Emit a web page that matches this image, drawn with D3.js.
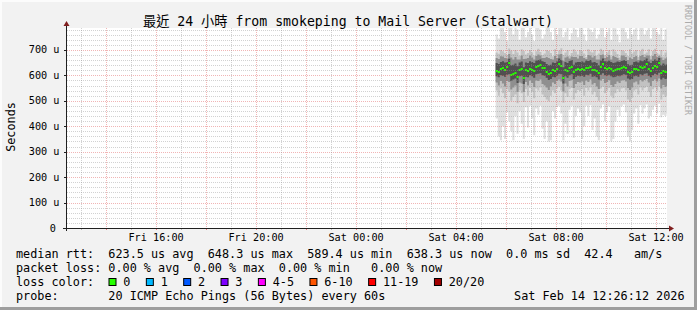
<!DOCTYPE html>
<html>
<head>
<meta charset="utf-8">
<title>smokeping - Mail Server (Stalwart)</title>
<script src="https://d3js.org/d3.v7.min.js"></script>
<style>
  body { margin: 0; background: #ffffff; }
  svg { display: block; }
  text { font-family: "DejaVu Sans Mono", monospace; white-space: pre; }
</style>
</head>
<body>
<script>
// ---- data (microseconds, one sample every 5 minutes from Sat 05:35) ----
var startTime = new Date(2026, 1, 14, 5, 35, 0);
var stepMinutes = 5;

var median = [618, 615, 625, 628, 622, 632, 648, 600, 606, 610, 592, 620, 624, 588, 620, 618, 625, 622, 618, 632,
  636, 640, 630, 627, 615, 606, 610, 620, 618, 626, 646, 635, 590, 622, 618, 628, 634, 612, 620, 624,
  622, 625, 620, 630, 628, 634, 620, 622, 618, 608, 632, 644, 628, 626, 630, 624, 618, 622, 626, 624,
  628, 634, 630, 614, 610, 612, 624, 626, 622, 632, 628, 634, 644, 626, 618, 630, 638, 632, 648, 608,
  616, 612, 614];

var smokeHi = [760, 745, 790, 800, 770, 735, 800, 790, 760, 800, 780, 740, 800, 795, 750, 770, 800, 760, 735, 790,
  800, 780, 745, 760, 800, 790, 770, 740, 800, 760, 795, 800, 750, 770, 800, 740, 765, 800, 780, 750,
  800, 790, 760, 735, 800, 780, 770, 800, 745, 760, 800, 790, 750, 770, 800, 740, 800, 785, 760, 730,
  800, 790, 770, 745, 800, 760, 780, 800, 740, 790, 800, 760, 775, 800, 745, 790, 800, 770, 760, 800,
  740, 780, 800];

var smokeP90 = [690, 685, 700, 695, 688, 680, 705, 698, 684, 700, 690, 676, 702, 696, 682, 688, 700, 690, 678, 695,
  704, 692, 680, 686, 700, 696, 688, 675, 702, 684, 698, 706, 680, 690, 700, 676, 688, 702, 694, 682,
  700, 696, 686, 672, 702, 694, 690, 700, 678, 686, 704, 698, 680, 690, 700, 674, 702, 694, 684, 670,
  700, 696, 688, 676, 702, 686, 694, 700, 672, 696, 704, 684, 690, 702, 676, 696, 704, 688, 682, 700,
  674, 690, 700];

var smokeP80 = [668, 664, 675, 674, 668, 666, 684, 670, 662, 672, 662, 662, 678, 664, 665, 668, 678, 670, 662, 676,
  682, 678, 668, 668, 672, 668, 664, 662, 676, 668, 682, 684, 656, 670, 674, 666, 674, 672, 672, 666,
  676, 676, 668, 664, 680, 678, 670, 676, 662, 662, 680, 682, 668, 672, 680, 662, 676, 672, 668, 660,
  678, 678, 672, 660, 670, 664, 672, 676, 660, 676, 680, 672, 678, 678, 662, 676, 684, 672, 676, 670,
  660, 666, 672];

var smokeP70 = [648, 645, 652, 655, 650, 652, 665, 640, 642, 646, 636, 650, 654, 632, 650, 648, 655, 652, 648, 658,
  660, 662, 655, 652, 645, 640, 642, 650, 648, 654, 666, 660, 632, 652, 648, 656, 660, 642, 650, 652,
  652, 654, 650, 658, 656, 660, 650, 652, 648, 640, 658, 666, 655, 654, 658, 652, 648, 650, 654, 652,
  656, 660, 656, 644, 640, 642, 652, 654, 650, 658, 655, 660, 666, 654, 648, 656, 662, 658, 668, 640,
  646, 642, 644];

var smokeP30 = [596, 592, 600, 598, 594, 602, 604, 578, 584, 588, 570, 596, 598, 566, 594, 592, 600, 596, 590, 604,
  606, 608, 600, 598, 590, 582, 586, 594, 592, 598, 606, 604, 568, 596, 590, 600, 604, 586, 594, 598,
  596, 598, 594, 602, 600, 606, 594, 596, 592, 584, 602, 608, 600, 598, 602, 596, 592, 594, 598, 596,
  600, 604, 602, 588, 584, 586, 596, 598, 594, 604, 600, 606, 608, 598, 592, 600, 606, 602, 610, 584,
  590, 586, 588];

var smokeP20 = [572, 560, 578, 568, 556, 578, 574, 544, 552, 560, 534, 572, 568, 534, 574, 560, 580, 570, 554, 580,
  578, 584, 566, 560, 552, 542, 556, 572, 566, 578, 584, 576, 536, 568, 556, 578, 582, 550, 566, 574,
  572, 576, 562, 580, 574, 584, 564, 570, 556, 546, 580, 586, 570, 574, 582, 562, 554, 566, 576, 570,
  580, 582, 576, 550, 542, 552, 572, 576, 564, 582, 576, 582, 586, 572, 558, 578, 584, 576, 588, 548,
  562, 554, 558];

var smokeP10 = [540, 520, 548, 530, 510, 545, 535, 500, 515, 525, 490, 540, 530, 495, 545, 520, 550, 535, 510, 548,
  540, 552, 525, 515, 505, 498, 520, 540, 530, 548, 555, 540, 492, 530, 515, 545, 550, 505, 530, 542,
  538, 545, 520, 550, 540, 552, 525, 535, 515, 500, 548, 555, 530, 540, 550, 520, 510, 530, 545, 535,
  548, 550, 540, 505, 495, 512, 540, 545, 525, 552, 540, 550, 555, 535, 515, 545, 552, 540, 556, 505,
  525, 515, 520];

var smokeLo = [430, 360, 345, 400, 350, 455, 420, 380, 345, 440, 370, 460, 410, 350, 475, 395, 480, 430, 365, 470,
  445, 480, 390, 350, 420, 340, 345, 460, 430, 475, 480, 450, 345, 410, 370, 465, 480, 355, 440, 470,
  455, 350, 400, 480, 440, 482, 385, 430, 360, 345, 470, 485, 420, 455, 478, 340, 350, 420, 465, 440,
  478, 485, 455, 360, 340, 385, 450, 470, 410, 482, 450, 470, 485, 430, 440, 465, 480, 450, 488, 435,
  445, 440, 450];

var yTicks = [0, 100, 200, 300, 400, 500, 600, 700];
var yMax = 786;
var xLabelHours = [16, 20, 0, 4, 8, 12];

var rttStats = [["623.5 us", "avg"], ["648.3 us", "max"], ["589.4 us", "min"], ["638.3 us", "now"], ["0.0 ms", "sd"]];
var rttAms = "42.4";
var lossStats = [["0.00 %", "avg"], ["0.00 %", "max"], ["0.00 %", "min"], ["0.00 %", "now"]];
var lossLabels = ["0", "1", "2", "3", "4-5", "6-10", "11-19", "20/20"];
var lossColors = ["#26ff00", "#00b8ff", "#0059ff", "#7e00ff", "#ff00ff", "#ff5500", "#ff0000", "#a10000"];
var probeText = "20 ICMP Echo Pings (56 Bytes) every 60s";
var stampText = "Sat Feb 14 12:26:12 2026";
var titleText = "最近 24 小時 from smokeping to Mail Server (Stalwart)";

// ---- layout ----
var W = 697, H = 310;
var L = 67, T = 28, PW = 600, PH = 200;
var cw = 7.115; // legend char advance

var svg = d3.select("body").append("svg")
  .attr("width", W)
  .attr("height", H);

svg.append("rect").attr("width", W).attr("height", H).attr("fill", "#f2f2f2");
svg.append("rect").attr("x", 0).attr("y", 0).attr("width", W).attr("height", 2).attr("fill", "#fcfcfc");
svg.append("rect").attr("x", 0).attr("y", 0).attr("width", 2).attr("height", H).attr("fill", "#fcfcfc");
svg.append("rect").attr("x", 0).attr("y", H - 3).attr("width", W).attr("height", 3).attr("fill", "#9e9e9e");
svg.append("rect").attr("x", W - 3).attr("y", 0).attr("width", 3).attr("height", H).attr("fill", "#9e9e9e");

svg.append("rect").attr("x", L).attr("y", T).attr("width", PW).attr("height", PH).attr("fill", "#ffffff");

var x = d3.scaleTime()
  .domain([new Date(2026, 1, 13, 12, 26, 12), new Date(2026, 1, 14, 12, 26, 12)])
  .range([L, L + PW]);
var y = d3.scaleLinear().domain([0, yMax]).range([T + PH, T]);

svg.append("clipPath").attr("id", "plotclip")
  .append("rect").attr("x", L).attr("y", T).attr("width", PW).attr("height", PH);

// ---- smoke ----
var n = median.length;
function tAt(i) { return d3.timeMinute.offset(startTime, i * stepMinutes); }
var idx = d3.range(n + 1); // extra index closes the last step

var smokeG = svg.append("g").attr("clip-path", "url(#plotclip)");
var bands = [
  [smokeLo, smokeHi, "#e0e0e0"],
  [smokeP10, smokeP90, "#c2c2c2"],
  [smokeP20, smokeP80, "#8f8f8f"],
  [smokeP30, smokeP70, "#505050"]
];
bands.forEach(function(b) {
  var area = d3.area()
    .curve(d3.curveStepAfter)
    .x(function(i) { return x(tAt(i)); })
    .y0(function(i) { return y(b[0][Math.min(i, n - 1)]); })
    .y1(function(i) { return y(b[1][Math.min(i, n - 1)]); });
  smokeG.append("path").datum(idx).attr("d", area).attr("fill", b[2]);
});

// median, coloured by loss (all 0 %)
smokeG.selectAll(".med").data(median).enter().append("rect")
  .attr("class", "med")
  .attr("x", function(d, i) { return x(tAt(i)); })
  .attr("width", function(d, i) { return x(tAt(i + 1)) - x(tAt(i)); })
  .attr("y", function(d) { return Math.round(y(d)) - 1; })
  .attr("height", 2)
  .attr("fill", lossColors[0]);

// ---- grid (on top, like rrdtool) ----
var gridMinor = "rgba(143,143,143,0.4)";
var gridMajor = "rgba(222,79,79,0.42)";
var gridG = svg.append("g").attr("shape-rendering", "crispEdges");
var minorY = d3.range(20, yMax, 20).filter(function(v) { return v % 100 !== 0; });
gridG.selectAll(".hmin").data(minorY).enter().append("line")
  .attr("x1", L).attr("x2", L + PW)
  .attr("y1", function(d) { return Math.round(y(d)) + 0.5; })
  .attr("y2", function(d) { return Math.round(y(d)) + 0.5; })
  .attr("stroke", gridMinor).attr("stroke-dasharray", "1,1");
gridG.selectAll(".hmaj").data(yTicks.filter(function(v) { return v > 0; })).enter().append("line")
  .attr("x1", L).attr("x2", L + PW)
  .attr("y1", function(d) { return Math.round(y(d)) + 0.5; })
  .attr("y2", function(d) { return Math.round(y(d)) + 0.5; })
  .attr("stroke", gridMajor).attr("stroke-dasharray", "1,1");

var hours = x.ticks(d3.timeHour.every(1));
gridG.selectAll(".v").data(hours).enter().append("line")
  .attr("x1", function(d) { return Math.round(x(d)) + 0.5; })
  .attr("x2", function(d) { return Math.round(x(d)) + 0.5; })
  .attr("y1", T).attr("y2", T + PH)
  .attr("stroke", function(d) { return d.getHours() % 2 === 0 ? gridMajor : gridMinor; })
  .attr("stroke-dasharray", "1,1");

// small outside ticks
gridG.selectAll(".yt").data(yTicks).enter().append("line")
  .attr("x1", L - 3).attr("x2", L)
  .attr("y1", function(d) { return Math.round(y(d)) + 0.5; })
  .attr("y2", function(d) { return Math.round(y(d)) + 0.5; })
  .attr("stroke", "#202020");
gridG.selectAll(".xt").data(hours).enter().append("line")
  .attr("x1", function(d) { return Math.round(x(d)) + 0.5; })
  .attr("x2", function(d) { return Math.round(x(d)) + 0.5; })
  .attr("y1", T + PH).attr("y2", T + PH + 2)
  .attr("stroke", function(d) { return d.getHours() % 2 === 0 ? "rgba(222,79,79,0.7)" : "rgba(143,143,143,0.6)"; });

// ---- axes ----
gridG.append("line").attr("x1", L - 4).attr("x2", L + PW + 2)
  .attr("y1", T + PH + 0.5).attr("y2", T + PH + 0.5).attr("stroke", "#202020");
gridG.append("line").attr("x1", L - 0.5).attr("x2", L - 0.5)
  .attr("y1", T + PH + 3).attr("y2", T - 4).attr("stroke", "#202020");
svg.append("path").attr("d", "M" + (L - 0.5) + "," + (T - 7) + "L" + (L - 3.5) + "," + (T - 2) + "L" + (L + 2.5) + "," + (T - 2) + "Z")
  .attr("fill", "#801f1f");
svg.append("path").attr("d", "M" + (L + PW + 7) + "," + (T + PH + 0.5) + "L" + (L + PW + 2) + "," + (T + PH - 2.5) + "L" + (L + PW + 2) + "," + (T + PH + 3.5) + "Z")
  .attr("fill", "#801f1f");

// axis labels
svg.selectAll(".ylab").data(yTicks).enter().append("text")
  .attr("x", function(d) { return d === 0 ? 55.8 : 59.5; })
  .attr("y", function(d) { return y(d) + 3.6; })
  .attr("text-anchor", "end")
  .attr("font-size", "10.2px")
  .attr("fill", "#000")
  .text(function(d) { return d === 0 ? "0" : d + " u"; });

var fmt = d3.timeFormat("%a %H:%M");
svg.selectAll(".xlab").data(hours.filter(function(d) { return xLabelHours.indexOf(d.getHours()) >= 0; }))
  .enter().append("text")
  .attr("x", function(d) { return x(d); })
  .attr("y", 240.5)
  .attr("text-anchor", "middle")
  .attr("font-size", "10.2px")
  .text(function(d) { return fmt(d); });

svg.append("text")
  .attr("transform", "translate(14.5,127) rotate(-90)")
  .attr("text-anchor", "middle")
  .attr("font-size", "11.8px")
  .text("Seconds");

svg.append("text")
  .attr("x", 348)
  .attr("y", 26)
  .attr("text-anchor", "middle")
  .attr("font-size", "13.2px")
  .style("font-family", "'DejaVu Sans Mono', 'Noto Sans CJK TC', monospace")
  .text(titleText);

svg.append("text")
  .attr("transform", "translate(685,5) rotate(90)")
  .attr("font-size", "8.3px")
  .attr("fill", "#ababab")
  .text("RRDTOOL / TOBI OETIKER");

// ---- legend ----
var lx = 16;
var line1 = "median rtt:  " + rttStats.map(function(s) { return s.join(" "); }).join("  ") + "  " + rttAms + "   am/s";
var line2 = "packet loss: " + lossStats.slice(0, 3).map(function(s) { return s.join(" "); }).join("  ") + "   " + lossStats[3].join(" ");
var legendG = svg.append("g").attr("font-size", "11.8px");
legendG.append("text").attr("x", lx).attr("y", 258).text(line1);
legendG.append("text").attr("x", lx).attr("y", 272).text(line2);
legendG.append("text").attr("x", lx).attr("y", 286).text("loss color:");
legendG.append("text").attr("x", lx).attr("y", 300).text("probe:       " + probeText);
legendG.append("text").attr("x", lx + 70 * cw).attr("y", 300).text(stampText);

var bx = lx + 13 * cw;
lossLabels.forEach(function(lab, i) {
  legendG.append("rect")
    .attr("x", bx + 0.5).attr("y", 278.5)
    .attr("width", 7).attr("height", 7)
    .attr("fill", lossColors[i]).attr("stroke", "#000").attr("stroke-width", 1);
  var tx = bx + 14.8;
  legendG.append("text").attr("x", tx).attr("y", 286).text(lab);
  bx = tx + (lab.length + 2) * cw + 1.2;
});
</script>
</body>
</html>
